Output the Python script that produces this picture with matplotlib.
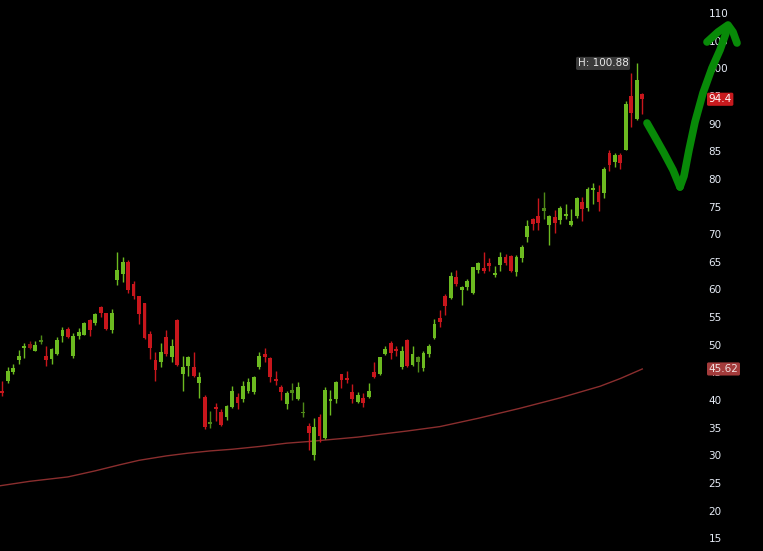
import numpy as np
import matplotlib
matplotlib.use('Agg')
import matplotlib.pyplot as plt

# daily candles (open, high, low, close), oldest first
opens = [41.6, 43.5, 45.1, 47.3, 49.4, 50.1, 48.9, 50.5, 48.0, 47.4,
         48.3, 51.5, 52.9, 48.0, 51.5, 51.8, 54.5, 54.0, 56.8, 55.7,
         52.7, 61.7, 62.8, 65.0, 60.9, 58.8, 57.5, 52.0, 47.3, 46.8,
         51.4, 47.7, 54.5, 44.7, 46.2, 45.9, 43.1, 40.6, 35.7, 38.7,
         37.9, 36.9, 38.8, 40.5, 40.1, 41.7, 41.5, 45.9, 48.3, 47.6,
         43.8, 42.4, 39.3, 41.3, 40.2, 37.6, 35.3, 30.1, 36.9, 33.2,
         39.8, 40.2, 44.7, 43.9, 41.5, 39.7, 40.4, 40.6, 45.0, 44.7,
         48.3, 50.3, 49.2, 45.9, 50.9, 46.3, 46.8, 45.8, 48.3, 51.2,
         54.8, 58.9, 58.4, 62.2, 59.9, 60.4, 59.4, 63.5, 63.8, 64.7,
         62.6, 64.4, 65.9, 66.1, 63.2, 65.6, 69.4, 72.7, 73.3, 74.2,
         71.7, 73.1, 72.6, 73.2, 71.7, 73.3, 75.9, 74.7, 78.0, 77.7,
         77.5, 84.6, 83.1, 84.3, 85.2, 94.9, 90.8, 95.3]
highs = [43.5, 46.0, 46.5, 49.1, 50.3, 50.7, 50.6, 51.8, 49.8, 49.5,
         51.4, 53.2, 53.2, 52.1, 53.0, 54.2, 54.7, 55.7, 57.0, 55.8,
         56.5, 66.7, 65.8, 65.3, 61.6, 58.8, 57.6, 52.4, 48.6, 50.3,
         52.7, 51.0, 54.6, 48.0, 48.0, 48.6, 45.1, 40.9, 38.0, 39.4,
         38.3, 39.1, 42.6, 41.2, 43.5, 43.9, 44.4, 48.6, 49.5, 47.7,
         45.3, 42.7, 41.6, 43.0, 43.3, 39.6, 35.8, 36.7, 37.5, 42.4,
         41.8, 43.5, 44.8, 45.3, 42.9, 41.5, 41.2, 43.0, 46.9, 47.8,
         49.7, 50.7, 49.7, 49.7, 51.0, 49.8, 48.0, 48.8, 50.1, 54.6,
         56.2, 59.1, 63.2, 63.5, 60.6, 61.9, 64.1, 65.0, 66.7, 65.6,
         64.2, 66.8, 66.4, 66.2, 66.2, 68.0, 72.6, 72.9, 76.6, 77.7,
         73.5, 74.4, 75.1, 75.4, 74.5, 76.8, 76.8, 78.5, 79.2, 78.9,
         82.1, 85.2, 84.6, 84.6, 94.1, 99.1, 100.88, 95.5]
lows = [40.7, 43.1, 44.7, 46.5, 47.6, 49.2, 48.8, 50.1, 46.2, 46.5,
        48.2, 50.5, 51.2, 47.6, 51.0, 51.7, 51.6, 53.6, 55.1, 52.7,
        52.2, 60.8, 61.3, 59.4, 58.2, 53.8, 51.0, 47.5, 43.5, 46.0,
        48.0, 46.8, 46.2, 41.6, 44.4, 44.1, 40.3, 34.7, 35.0, 36.3,
        35.3, 36.4, 38.5, 38.3, 39.7, 41.3, 41.1, 45.6, 46.8, 43.3,
        42.7, 40.0, 38.3, 40.0, 40.0, 36.9, 31.0, 29.2, 32.5, 32.9,
        37.3, 39.5, 42.1, 43.1, 39.4, 39.4, 38.8, 40.3, 43.9, 44.5,
        48.2, 47.4, 48.0, 45.7, 46.0, 46.2, 45.1, 45.3, 47.8, 51.0,
        53.3, 55.4, 58.3, 60.6, 57.2, 59.9, 59.2, 62.9, 62.9, 63.4,
        62.2, 63.4, 64.4, 63.2, 62.4, 65.0, 68.6, 70.8, 70.8, 72.7,
        68.0, 70.3, 71.8, 72.7, 71.4, 72.9, 72.4, 74.1, 75.5, 74.1,
        76.5, 81.5, 82.2, 81.7, 85.2, 89.4, 90.7, 91.7]
closes = [41.2, 45.3, 45.8, 47.9, 49.7, 49.5, 50.0, 50.9, 47.3, 49.2,
          50.9, 52.7, 51.4, 51.6, 52.3, 53.9, 52.7, 55.5, 55.7, 52.9,
          55.7, 63.5, 65.0, 59.9, 58.8, 55.6, 51.2, 49.4, 45.4, 48.6,
          48.3, 49.8, 46.3, 45.9, 47.8, 44.4, 44.1, 35.1, 36.1, 38.3,
          35.5, 38.9, 41.7, 39.5, 42.6, 43.3, 44.1, 48.0, 47.7, 44.2,
          43.5, 41.5, 41.3, 41.8, 42.3, 37.9, 34.0, 35.1, 33.5, 41.9,
          40.2, 43.3, 43.6, 43.6, 40.1, 41.0, 39.4, 41.7, 44.2, 47.7,
          49.2, 48.5, 48.9, 48.8, 46.2, 48.3, 47.7, 48.5, 49.7, 53.8,
          54.2, 57.0, 62.4, 61.0, 60.4, 61.5, 64.0, 64.7, 63.4, 64.2,
          62.9, 65.8, 64.7, 63.4, 65.9, 67.7, 71.5, 71.8, 72.1, 74.7,
          73.2, 72.1, 74.7, 73.6, 72.4, 76.5, 74.6, 78.1, 78.3, 75.9,
          81.8, 82.5, 84.3, 82.8, 93.5, 92.0, 97.9, 94.4]
# low-volume sessions drawn in a dimmer shade
dim_days = [5, 7, 38, 53, 55, 76, 99]

# long moving average, read at candle positions
ma_pos = [-0.4, 5, 12, 17, 21.5, 25, 30, 34, 38, 42, 47, 52, 56, 60.5, 65, 69,
          74, 80, 87, 94.6, 102, 109.3, 113, 117]
ma_val = [24.5, 25.3, 26.1, 27.2, 28.3, 29.1, 29.9, 30.4, 30.8, 31.1, 31.6, 32.2,
          32.5, 32.9, 33.3, 33.8, 34.4, 35.2, 36.7, 38.5, 40.4, 42.5, 43.9, 45.62]

yticks = list(range(15, 111, 5))

# hand drawn arrow (figure pixels, from top left)
stroke_down = [(647, 123), (655, 137), (664, 153), (673, 170), (680, 187)]
stroke_up = [(680, 187), (684, 176), (689, 150), (695, 122), (703, 93), (712, 68), (720, 50), (726, 33)]
stroke_head = [(707, 42), (718, 32), (728, 25), (733, 32), (737, 43)]

W, H = 763, 551
fig = plt.figure(figsize=(W / 100, H / 100), dpi=100)
fig.patch.set_facecolor('black')
ax = fig.add_axes([0, 0, 703 / W, 1])
ax.set_facecolor('black')

o = np.array(opens)
h = np.array(highs)
l = np.array(lows)
c = np.array(closes)
x = np.arange(len(o))

cols = []
for i in range(len(o)):
    if c[i] >= o[i]:
        cols.append('#4f8a18' if i in dim_days else '#6cba20')
    else:
        cols.append('#8e1416' if i in dim_days else '#c8161c')

ax.vlines(x, l, h, colors=cols, linewidth=1.0, zorder=2)
body = np.maximum(np.abs(c - o), 0.3)
ax.bar(x, body, bottom=np.minimum(o, c), width=0.7, color=cols, linewidth=0, zorder=3)

ax.plot(ma_pos, ma_val, color='#8a2e2e', lw=1.0, zorder=1)

ax.set_xlim(-0.42, 128.1)
ax.set_ylim(12.7, 112.35)
ax.set_xticks([])
ax.yaxis.tick_right()
ax.set_yticks(yticks)
ax.set_yticklabels([str(t) for t in yticks])
ax.tick_params(axis='y', length=0, pad=4, labelsize=7.5, labelcolor='#e6ecf6')
for s in ax.spines.values():
    s.set_visible(False)

# price flags on the right scale
ax.annotate(f'{closes[-1]}', xy=(1, closes[-1]), xycoords=('axes fraction', 'data'),
            xytext=(4, 0), textcoords='offset points', ha='left', va='center',
            fontsize=7.5, color='white', annotation_clip=False, zorder=5,
            bbox=dict(boxstyle='round,pad=0.15', fc='#c81a1e', ec='none'))
ax.annotate(f'{ma_val[-1]}', xy=(1, ma_val[-1]), xycoords=('axes fraction', 'data'),
            xytext=(4, 0), textcoords='offset points', ha='left', va='center',
            fontsize=7.5, color='#f0e0e0', annotation_clip=False, zorder=5,
            bbox=dict(boxstyle='round,pad=0.15', fc='#a33b3b', ec='none'))

# high marker
hi = int(np.argmax(h))
ax.annotate(f'H: {h[hi]:.2f}', xy=(hi, h[hi]), xytext=(-6, 0), textcoords='offset points',
            ha='right', va='center', fontsize=7.5, color='#e8e8e8', zorder=5,
            bbox=dict(boxstyle='round,pad=0.15', fc='#3a3a3a', ec='none'))

for stroke in [stroke_down, stroke_up, stroke_head]:
    px = [p[0] / W for p in stroke]
    py = [1 - p[1] / H for p in stroke]
    fig.add_artist(plt.Line2D(px, py, transform=fig.transFigure, color='#088a08',
                              lw=5.5, solid_capstyle='round', solid_joinstyle='round'))

fig.savefig('out.png', dpi=100, facecolor='black')
